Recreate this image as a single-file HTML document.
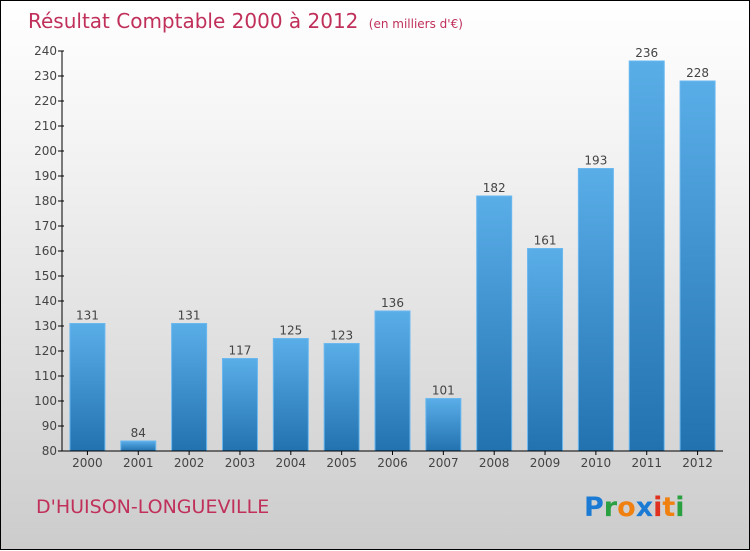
<!DOCTYPE html>
<html><head><meta charset="utf-8"><style>
body{margin:0;}
#wrap{width:748px;height:548px;border:1px solid #000;background:linear-gradient(#fff,#f4f4f4 25%,#cccccc);position:relative;font-family:"DejaVu Sans","Liberation Sans",sans-serif;}
svg{position:absolute;left:0;top:0;}
</style></head><body>
<div id="wrap">
<svg id="chart" width="750" height="550">
<defs>
<linearGradient id="bg" x1="0" y1="0" x2="0" y2="1"><stop offset="0" stop-color="#5aaee8"/><stop offset="1" stop-color="#2272b0"/></linearGradient>
</defs>
<text x="27" y="27" font-size="20" fill="#c0305a">Résultat Comptable 2000 à 2012 <tspan font-size="12" dx="4">(en milliers d'€)</tspan></text>
<text x="35" y="512" font-size="19" fill="#c0305a">D'HUISON-LONGUEVILLE</text>
<text x="583" y="515" font-size="27" font-weight="bold"><tspan fill="#1a7ad4">P</tspan><tspan fill="#2aa040">r</tspan><tspan fill="#f08010">o</tspan><tspan fill="#1a7ad4">x</tspan><tspan fill="#e03020">i</tspan><tspan fill="#f08010">t</tspan><tspan fill="#2aa040">i</tspan></text>
<g id="plot"></g>
</svg>
</div>
<script>
const categories=["2000","2001","2002","2003","2004","2005","2006","2007","2008","2009","2010","2011","2012"];
const values=[131,84,131,117,125,123,136,101,182,161,193,236,228];
const yTicks=[80,90,100,110,120,130,140,150,160,170,180,190,200,210,220,230,240];
const NS="http://www.w3.org/2000/svg";
const g=document.getElementById('plot');
const x0=61,x1=722,yBase=450,yTop=50,vMin=80,vMax=240;
const band=(x1-x0)/categories.length,bw=35;
function y(v){return yBase-(v-vMin)/(vMax-vMin)*(yBase-yTop);}
function xc(i){return x0+band*(i+0.5);}
function mk(t,a){const e=document.createElementNS(NS,t);for(const k in a)e.setAttribute(k,a[k]);g.appendChild(e);return e;}
values.forEach((v,i)=>{
 const r=mk('rect',{x:xc(i)-bw/2,y:y(v),width:bw,height:yBase-y(v),fill:'url(#bg)',stroke:'#6ab8f0','stroke-width':1});
 
 
 const t=mk('text',{x:xc(i),y:y(v)-4,'text-anchor':'middle','font-size':12,fill:'#444'});
 t.textContent=v;
 
 
 const l=mk('text',{x:xc(i),y:466,'text-anchor':'middle','font-size':12,fill:'#444'});
 l.textContent=categories[i];
 
 
 const tk=mk('line',{x1:xc(i),x2:xc(i),y1:450,y2:454,stroke:'#000'});
 
 
});
yTicks.forEach(v=>{
 const tk=mk('line',{x1:57,x2:63,y1:y(v),y2:y(v),stroke:'#000'});
 
 
 const t=mk('text',{x:56,y:y(v)+4,'text-anchor':'end','font-size':12,fill:'#444'});
 t.textContent=v;
 
 
});
const ya=mk('line',{x1:x0,x2:x0,y1:yTop,y2:yBase,stroke:'#000'});


const xa=mk('line',{x1:x0,x2:x1,y1:yBase,y2:yBase,stroke:'#000'});


</script>
</body></html>
